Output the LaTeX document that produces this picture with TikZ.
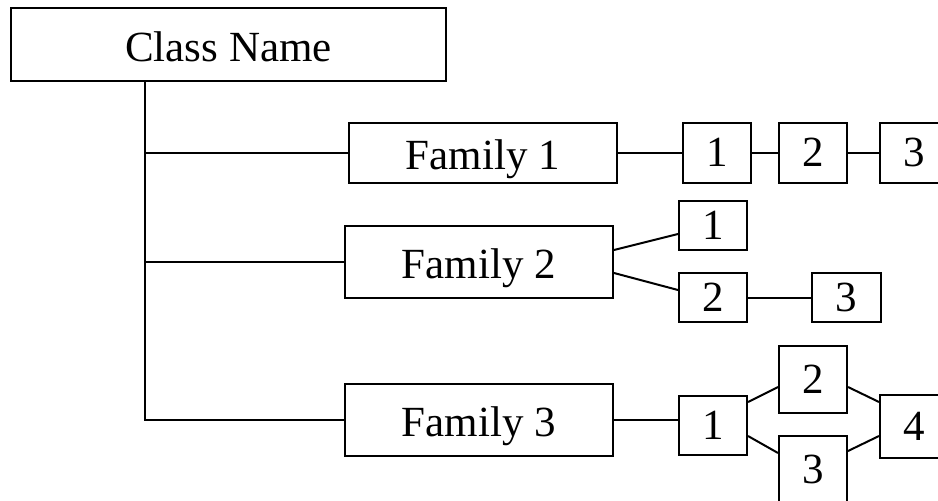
\documentclass[tikz,border=0pt]{standalone}
\usepackage{fontspec}
\setmainfont{Liberation Serif}
\usetikzlibrary{calc}
\begin{document}
\begin{tikzpicture}[x=1pt,y=-1pt,line width=2pt,
  box/.style={draw,inner sep=0pt,font=\fontsize{43}{48}\selectfont,text height=33pt,text depth=0pt},
  numbox/.style={box,text height=27pt}]
\useasboundingbox (0,0) rectangle (938,501);
\clip (0,0) rectangle (938,501);
\node[box,minimum width=435pt,minimum height=73pt] (cls) at (228.5,44.5) {Class Name};
\node[box,minimum width=268pt,minimum height=60pt] (f1) at (483,153) {Family 1};
\node[box,minimum width=268pt,minimum height=72pt] (f2) at (479,262) {Family 2};
\node[box,minimum width=268pt,minimum height=72pt] (f3) at (479,420) {Family 3};
\node[numbox,minimum width=68pt,minimum height=60pt] (a1) at (717,153) {1};
\node[numbox,minimum width=68pt,minimum height=60pt] (a2) at (813,153) {2};
\node[numbox,minimum width=68pt,minimum height=60pt] (a3) at (914,153) {3};
\node[numbox,minimum width=68pt,minimum height=49pt] (b1) at (713,225.5) {1};
\node[numbox,minimum width=68pt,minimum height=49pt] (b2) at (713,297.5) {2};
\node[numbox,minimum width=69pt,minimum height=49pt] (b3) at (846.5,297.5) {3};
\node[numbox,minimum width=68pt,minimum height=59pt] (c1) at (713,425.5) {1};
\node[numbox,minimum width=68pt,minimum height=67pt] (c2) at (813,379.5) {2};
\node[numbox,minimum width=68pt,minimum height=67pt] (c3) at (813,469.5) {3};
\node[numbox,minimum width=68pt,minimum height=63pt] (c4) at (914,426.5) {4};
\coordinate (j) at (145,0);
\draw (cls.south -| j) -- (f3.west -| j) -- (f3.west);
\draw (f1.west -| j) -- (f1.west);
\draw (f2.west -| j) -- (f2.west);
\draw (f1) -- (a1);
\draw (a1) -- (a2);
\draw (a2) -- (a3);
\draw ($(f2.east)+(0,-12)$) -- ($(b1.west)+(0,8.5)$);
\draw ($(f2.east)+(0,11)$) -- ($(b2.west)+(0,-7.5)$);
\draw (b2) -- (b3);
\draw (f3.east) -- (f3.east -| c1.west);
\draw ($(c1.east)+(0,-23.5)$) -- ($(c2.west)+(0,7.5)$);
\draw ($(c1.east)+(0,10.5)$) -- ($(c3.west)+(0,-16.5)$);
\draw ($(c2.east)+(0,7.5)$) -- ($(c4.west)+(0,-24.5)$);
\draw ($(c3.east)+(0,-18.5)$) -- ($(c4.west)+(0,9.5)$);
\end{tikzpicture}
\end{document}
